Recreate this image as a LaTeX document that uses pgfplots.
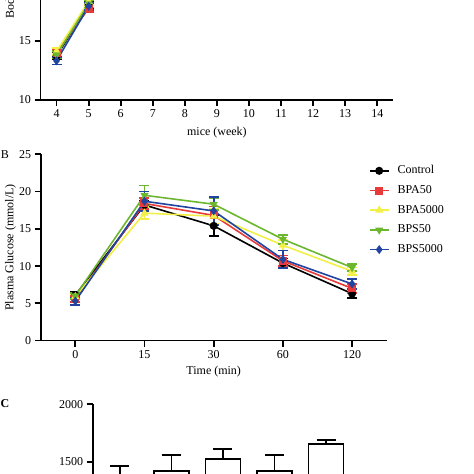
\documentclass[border=0pt]{standalone}
\usepackage{fontspec}
\setmainfont{Liberation Serif}
\usepackage{pgfplots}
\pgfplotsset{compat=1.18}
\definecolor{cred}{RGB}{232,58,58}
\definecolor{cyellow}{RGB}{242,240,70}
\definecolor{cgreen}{RGB}{108,182,48}
\definecolor{cblue}{RGB}{32,68,160}
\pgfplotsset{
  gp/.style={
    scale only axis,
    axis x line*=bottom, axis y line*=left,
    axis line style={line width=1.8pt, black},
    tick align=outside, major tick length=6pt,
    every tick/.style={line width=1.8pt, black},
    tick label style={font=\fontsize{12}{14}\selectfont},
    label style={font=\fontsize{12}{14}\selectfont},
    /pgf/number format/assume math mode=true,
    /pgf/number format/1000 sep={},
    clip=false,
  },
  ln/.style={line width=1.6pt, mark size=3.2pt, mark options={solid},
    error bars/y dir=both, error bars/y explicit,
    error bars/error bar style={line width=1.7pt},
    error bars/error mark options={rotate=90, line width=1.7pt, mark size=5pt}},
}
\pgfplotstableread{
x y e
0 6.1 0.4
1 18.2 0.5
2 15.4 1.4
3 10.4 0.6
4 6.3 0.6
}\ctrl
\pgfplotstableread{
x y e
0 5.6 0.4
1 18.4 0.7
2 16.8 1.2
3 10.7 0.7
4 7.0 0.6
}\bpaA
\pgfplotstableread{
x y e
0 5.9 0.4
1 17.1 0.8
2 16.7 1.0
3 12.8 0.7
4 9.3 0.5
}\bpaB
\pgfplotstableread{
x y e
0 6.0 0.4
1 19.5 1.3
2 18.3 0.8
3 13.6 0.6
4 9.8 0.5
}\bpsA
\pgfplotstableread{
x y e
0 5.3 0.5
1 18.7 1.3
2 17.4 1.9
3 10.9 1.2
4 7.6 0.7
}\bpsB
\begin{document}
\begin{tikzpicture}[font=\fontsize{12}{14}\selectfont]
\useasboundingbox (0pt,0pt) rectangle (474pt,474pt);
\clip (0pt,0pt) rectangle (474pt,474pt);
% ---------- top panel (body weight) ----------
\begin{axis}[gp,
  at={(40.5pt,374pt)}, anchor=south west,
  width=352.8pt, height=118.7pt,
  xmin=3.5, xmax=14.5, ymin=10, ymax=20,
  xtick={4,5,...,14}, ytick={10,15,20},
  xlabel={mice (week)},
  xlabel style={at={(axis description cs:0.5,-0.278)}, anchor=center},
  ylabel={Body weight (g)},
  ylabel style={at={(axis description cs:-0.0836,0.657)}, anchor=west},
]
\addplot[ln, black, mark=*] coordinates {(4,13.7) +- (0,0.3) (5,18.0) +- (0,0.3)};
\addplot[ln, cred, mark=square*] coordinates {(4,14.0) +- (0,0.3) (5,17.7) +- (0,0.3)};
\addplot[ln, cyellow, mark=triangle*] coordinates {(4,14.1) +- (0,0.3) (5,18.3) +- (0,0.3)};
\addplot[ln, cgreen, mark=triangle*, mark options={rotate=180}] coordinates {(4,13.8) +- (0,0.3) (5,18.1) +- (0,0.3)};
\addplot[ln, cblue, mark=diamond*] coordinates {(4,13.3) +- (0,0.3) (5,17.9) +- (0,0.3)};
\end{axis}
% ---------- panel B ----------
\begin{axis}[gp,
  at={(40.7pt,133.4pt)}, anchor=south west,
  width=346pt, height=186.3pt,
  xmin=-0.5, xmax=4.5, ymin=0, ymax=25,
  xtick={0,1,2,3,4}, xticklabels={0,15,30,60,120},
  ytick={0,5,...,25},
  xlabel={Time (min)},
  xlabel style={at={(axis description cs:0.5,-0.165)}, anchor=center},
  ylabel={Plasma Glucose (mmol/L)},
  ylabel style={at={(axis description cs:-0.087,0.5)}, anchor=center},
  legend style={draw=none, fill=none, inner sep=0pt,
    at={(axis description cs:0.948,0.95)}, anchor=north west,
    nodes={inner sep=1pt, text height=9pt, text depth=3pt, font=\fontsize{12}{14}\selectfont},
    row sep=5.7pt, column sep=7pt},
  legend cell align=left,
  legend image code/.code={\draw[#1, mark repeat=2, mark phase=2, error bars/draw error bar/.code={}] plot coordinates {(0pt,0pt) (9.5pt,0pt) (19pt,0pt)};},
]
\addplot[ln, black, mark=*] table[x=x,y=y,y error=e] {\ctrl};
\addlegendentry{Control}
\addplot[ln, cred, mark=square*] table[x=x,y=y,y error=e] {\bpaA};
\addlegendentry{BPA50}
\addplot[ln, cyellow, mark=triangle*] table[x=x,y=y,y error=e] {\bpaB};
\addlegendentry{BPA5000}
\addplot[ln, cgreen, mark=triangle*, mark options={rotate=180}] table[x=x,y=y,y error=e] {\bpsA};
\addlegendentry{BPS50}
\addplot[ln, cblue, mark=diamond*] table[x=x,y=y,y error=e] {\bpsB};
\addlegendentry{BPS5000}
\end{axis}
% ---------- panel C ----------
\begin{axis}[gp,
  at={(92.7pt,-159.9pt)}, anchor=south west,
  width=260.6pt, height=229.6pt,
  xmin=-0.53, xmax=4.53, ymin=0, ymax=2000,
  xtick=\empty, ytick={0,500,...,2000},
]
\addplot[ybar, bar width=35pt, fill=white, draw=black, line width=1.8pt,
  error bars/y dir=plus, error bars/y explicit,
  error bars/error bar style={line width=1.8pt, black},
  error bars/error mark options={rotate=90, line width=1.8pt, mark size=9.5pt, black}]
  coordinates {(0,1360) +- (0,105) (1,1419) +- (0,139) (2,1521) +- (0,87) (3,1419) +- (0,139) (4,1652) +- (0,34)};
\end{axis}
\node[anchor=center] at (5pt,319pt) {B};
\node[anchor=center, font=\fontsize{12}{14}\selectfont\bfseries] at (5pt,70pt) {C};
\end{tikzpicture}
\end{document}
